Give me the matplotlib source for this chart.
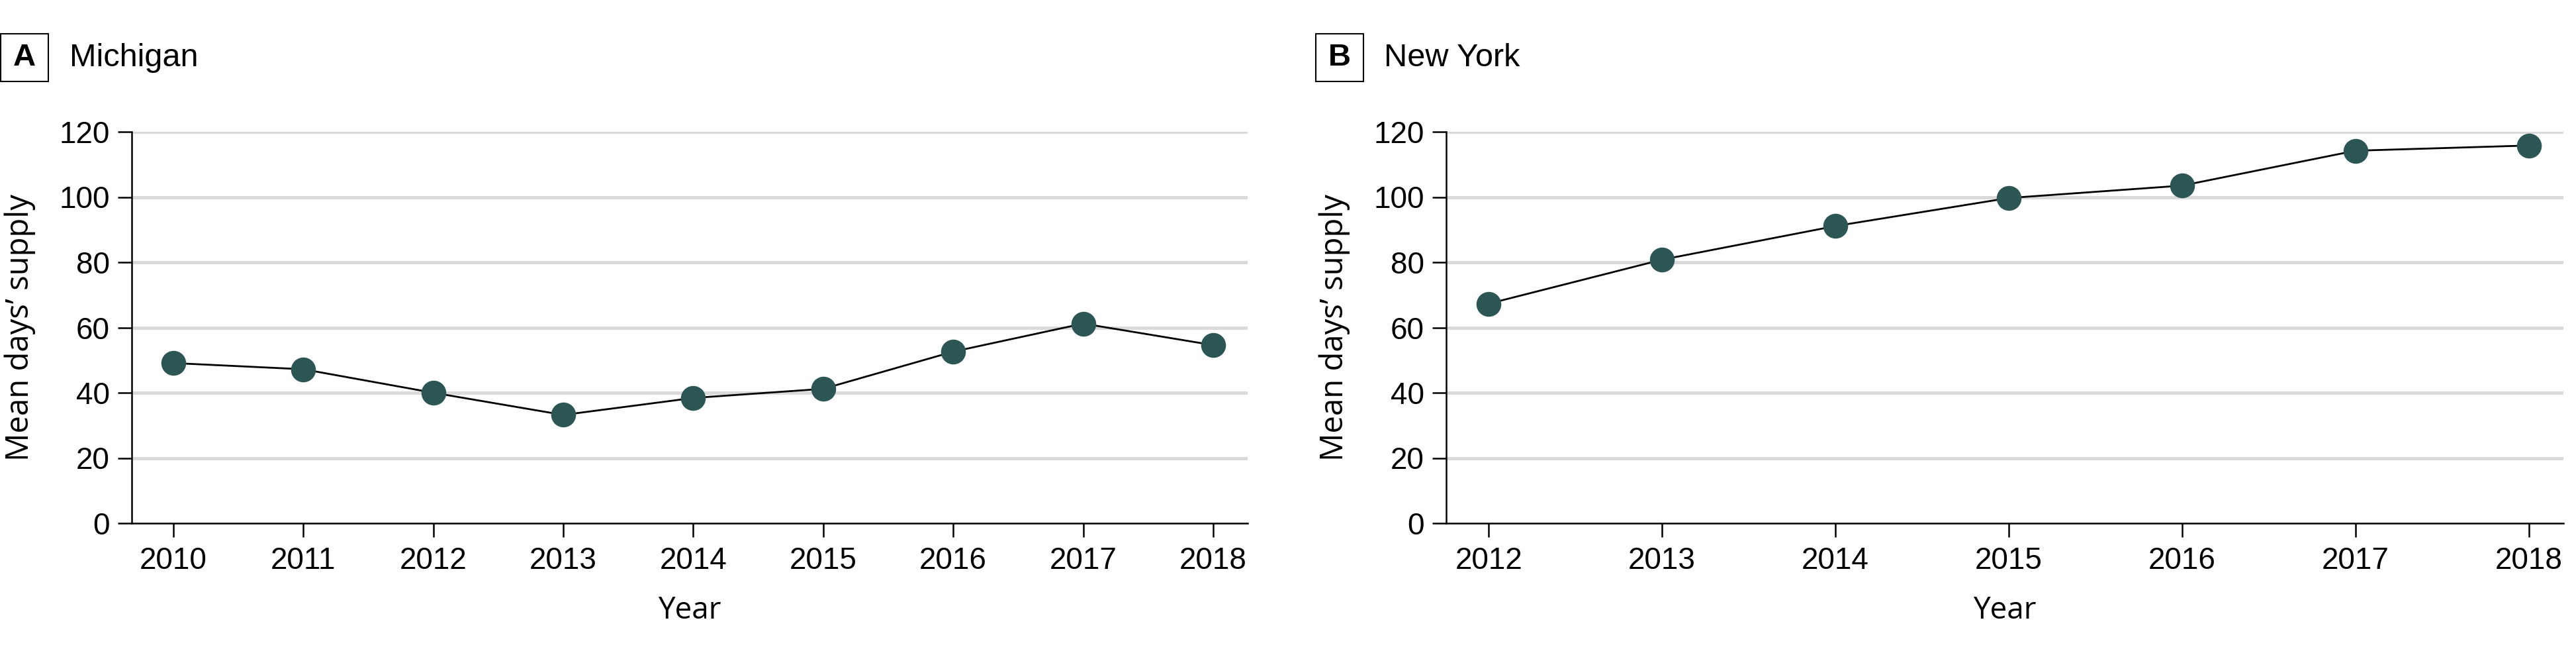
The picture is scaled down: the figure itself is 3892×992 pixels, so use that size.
import matplotlib
matplotlib.use("Agg")
from matplotlib import pyplot as plt
from matplotlib.patches import Rectangle

# data
mi_years = [2010, 2011, 2012, 2013, 2014, 2015, 2016, 2017, 2018]
mi_supply = [49.1, 47.2, 40.0, 33.2, 38.4, 41.2, 52.6, 61.2, 54.6]

ny_years = [2012, 2013, 2014, 2015, 2016, 2017, 2018]
ny_supply = [67.3, 80.8, 91.1, 99.7, 103.5, 114.2, 115.8]

y_ticks = [0, 20, 40, 60, 80, 100, 120]

narrow = ["Liberation Sans", "DejaVu Sans"]
plain = ["Open Sans", "DejaVu Sans"]
point_color = "#2b5654"

W, H = 3892, 992
fig = plt.figure(figsize=(W / 100, H / 100), dpi=100)

def panel(rect, years, values, xlim, letter, title, box_left, title_x):
    ax = fig.add_axes(rect)
    ax.plot(years, values, color="black", linewidth=2.0, zorder=3)
    ax.plot(years, values, linestyle="none", marker="o", markersize=26,
            markerfacecolor=point_color, markeredgecolor=point_color, zorder=4)
    ax.set_ylim(0, 120)
    ax.set_xlim(xlim)
    ax.set_yticks(y_ticks)
    ax.set_xticks(years)
    for yv in y_ticks[1:]:
        ax.axhline(yv, color="#d9d9d9", linewidth=3.5, zorder=1)
    for s in ["top", "right"]:
        ax.spines[s].set_visible(False)
    for s in ["left", "bottom"]:
        ax.spines[s].set_linewidth(1.8)
        ax.spines[s].set_zorder(5)
    ax.tick_params(axis="both", length=15, width=1.8, labelsize=33)
    ax.tick_params(axis="y", pad=9)
    ax.tick_params(axis="x", pad=10)
    for lab in ax.get_xticklabels() + ax.get_yticklabels():
        lab.set_family(narrow)
    ax.set_ylabel("Mean days\u2019 supply", fontsize=34, family=plain)
    ax.yaxis.set_label_coords(-0.086, 0.5)
    ax.set_xlabel("Year", fontsize=33, family=plain, labelpad=22)
    # panel letter in a square box, then the title
    fig.patches.append(Rectangle((box_left / W, 1 - 123 / H), 72 / W, 72 / H,
                                 transform=fig.transFigure, facecolor="white",
                                 edgecolor="black", linewidth=1.5))
    fig.text((box_left + 36) / W, 1 - 87 / H, letter, fontsize=34, fontweight="bold",
             family=narrow, ha="center", va="center")
    fig.text(title_x, 0.912, title, fontsize=35, family=narrow, ha="left", va="center")
    return ax

panel([199 / W, 1 - 790 / H, 1686 / W, 591 / H], mi_years, mi_supply,
      (2009.68, 2018.265), "A", "Michigan", 1, 0.027)
panel([2185 / W, 1 - 790 / H, 1688 / W, 591 / H], ny_years, ny_supply,
      (2011.755, 2018.2), "B", "New York", 1988, 0.5373)

fig.savefig("out.png", dpi=100, facecolor="white")
